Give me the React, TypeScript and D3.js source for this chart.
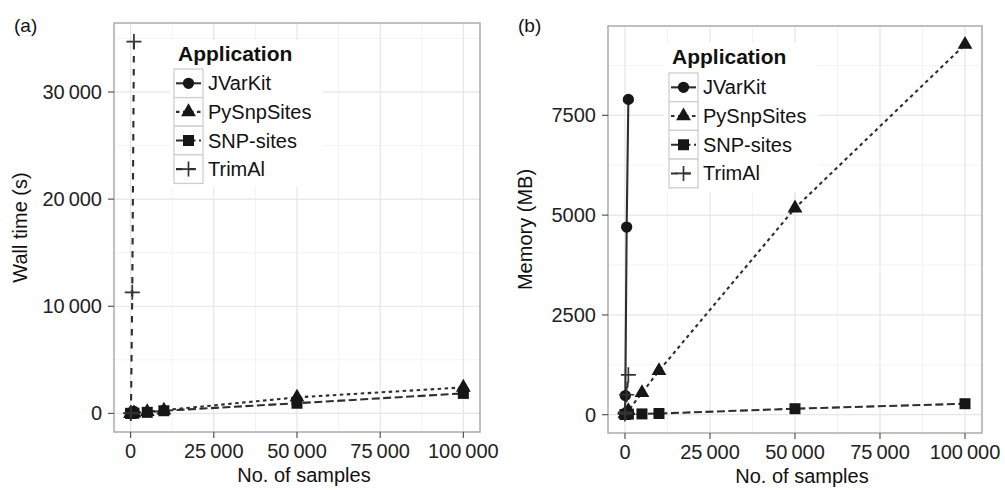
import React, { useEffect, useRef } from "react";
import * as d3 from "d3";

// application names (legend order)
const applications = ["JVarKit", "PySnpSites", "SNP-sites", "TrimAl"];

// sample counts per application
const jvarkitSamples = [10, 100, 500, 1000];
const trimalSamples = [10, 100, 500, 1000];
const pysnpSamples = [10, 100, 1000, 5000, 10000, 50000, 100000];
const snpSamples = [10, 100, 1000, 5000, 10000, 50000, 100000];

// wall time (s)
const jvarkitWall = [2, 15, 90, 180];
const pysnpWall = [1, 4, 40, 150, 300, 1500, 2430];
const snpWall = [1, 3, 20, 100, 250, 950, 1870];
const trimalWall = [1, 30, 11300, 34700];

// memory (MB)
const jvarkitMem = [30, 480, 4700, 7900];
const pysnpMem = [20, 30, 100, 550, 1100, 5175, 9275];
const snpMem = [5, 8, 15, 20, 30, 150, 275];
const trimalMem = [20, 60, 500, 1000];

// axis ticks
const xTicks = [0, 25000, 50000, 75000, 100000];
const xTickLabels = ["0", "25\u2009000", "50\u2009000", "75\u2009000", "100\u2009000"];
const xMinor = [12500, 37500, 62500, 87500];
const yTicksA = [0, 10000, 20000, 30000];
const yTickLabelsA = ["0", "10\u2009000", "20\u2009000", "30\u2009000"];
const yMinorA = [5000, 15000, 25000, 35000];
const yTicksB = [0, 2500, 5000, 7500];
const yTickLabelsB = ["0", "2500", "5000", "7500"];
const yMinorB = [1250, 3750, 6250, 8750];

const dashes: Record<string, string | null> = {
  JVarKit: null,
  PySnpSites: "3.5,3.5",
  "SNP-sites": "8,3.5",
  TrimAl: "6.5,6.5",
};

const FONT = "'Liberation Sans', Arial, Helvetica, sans-serif";

const drawMarker = (g, name, x, y) => {
  if (name === "TrimAl") {
    g.append("path")
      .attr("d", `M${x - 7.5},${y}H${x + 7.5}M${x},${y - 7.5}V${y + 7.5}`)
      .attr("stroke", "#333")
      .attr("stroke-width", 1.7)
      .attr("fill", "none");
    return;
  }
  const type =
    name === "JVarKit" ? d3.symbolCircle : name === "PySnpSites" ? d3.symbolTriangle : d3.symbolSquare;
  const size = name === "JVarKit" ? 100 : name === "PySnpSites" ? 95 : 121;
  g.append("path")
    .attr("d", d3.symbol().type(type).size(size)())
    .attr("transform", `translate(${x},${y})`)
    .attr("fill", "#161616");
};

const drawPanel = (svg, cfg) => {
  const { left, right, top, bottom, series, yTicks, yLabels, yMinor, yTitle, tag, legend } = cfg;

  const allX = series.flatMap((s) => s.x);
  const allY = series.flatMap((s) => s.y);
  const [x0, x1] = d3.extent(allX);
  const [y0, y1] = d3.extent(allY);
  const ex = (x1 - x0) * 0.05;
  const ey = (y1 - y0) * 0.05;

  const x = d3.scaleLinear().domain([x0 - ex, x1 + ex]).range([left, right]);
  const y = d3.scaleLinear().domain([y0 - ey, y1 + ey]).range([bottom, top]);

  const g = svg.append("g");

  g.append("rect")
    .attr("x", left)
    .attr("y", top)
    .attr("width", right - left)
    .attr("height", bottom - top)
    .attr("fill", "white");

  // minor grid
  xMinor.forEach((v) =>
    g.append("line").attr("x1", x(v)).attr("x2", x(v)).attr("y1", top).attr("y2", bottom)
      .attr("stroke", "#f3f3f3").attr("stroke-width", 1)
  );
  yMinor.filter((v) => y(v) > top).forEach((v) =>
    g.append("line").attr("x1", left).attr("x2", right).attr("y1", y(v)).attr("y2", y(v))
      .attr("stroke", "#f3f3f3").attr("stroke-width", 1)
  );
  // major grid
  xTicks.forEach((v) =>
    g.append("line").attr("x1", x(v)).attr("x2", x(v)).attr("y1", top).attr("y2", bottom)
      .attr("stroke", "#e6e6e6").attr("stroke-width", 1.2)
  );
  yTicks.forEach((v) =>
    g.append("line").attr("x1", left).attr("x2", right).attr("y1", y(v)).attr("y2", y(v))
      .attr("stroke", "#e6e6e6").attr("stroke-width", 1.2)
  );

  // legend background (drawn over grid, under data)
  g.append("rect")
    .attr("x", legend.bx)
    .attr("y", legend.by)
    .attr("width", legend.bw)
    .attr("height", legend.bh)
    .attr("fill", "white");

  // lines
  const line = d3.line().x((d) => x(d[0])).y((d) => y(d[1]));
  series.forEach((s) => {
    const pts = s.x.map((v, i) => [v, s.y[i]]);
    const p = g.append("path")
      .attr("d", line(pts))
      .attr("fill", "none")
      .attr("stroke", "#2e2e2e")
      .attr("stroke-width", 2.1);
    if (dashes[s.name]) p.attr("stroke-dasharray", dashes[s.name]);
  });
  // markers
  series.forEach((s) => {
    s.x.forEach((v, i) => drawMarker(g, s.name, x(v), y(s.y[i])));
  });

  // panel border
  g.append("rect")
    .attr("x", left)
    .attr("y", top)
    .attr("width", right - left)
    .attr("height", bottom - top)
    .attr("fill", "none")
    .attr("stroke", "#a6a6a6")
    .attr("stroke-width", 1.4);

  // axes ticks + labels
  xTicks.forEach((v, i) => {
    g.append("line").attr("x1", x(v)).attr("x2", x(v)).attr("y1", bottom).attr("y2", bottom + 6)
      .attr("stroke", "#555").attr("stroke-width", 1.2);
    g.append("text").attr("x", x(v)).attr("y", bottom + 26)
      .attr("text-anchor", "middle").attr("font-size", 20).attr("font-family", FONT)
      .attr("fill", "#222").text(xTickLabels[i]);
  });
  yTicks.forEach((v, i) => {
    g.append("line").attr("x1", left - 6).attr("x2", left).attr("y1", y(v)).attr("y2", y(v))
      .attr("stroke", "#555").attr("stroke-width", 1.2);
    g.append("text").attr("x", left - 12).attr("y", y(v) + 7)
      .attr("text-anchor", "end").attr("font-size", 20).attr("font-family", FONT)
      .attr("fill", "#222").text(yLabels[i]);
  });

  // axis titles
  g.append("text")
    .attr("x", (left + right) / 2 + 7)
    .attr("y", bottom + 50)
    .attr("text-anchor", "middle").attr("font-size", 20).attr("font-family", FONT)
    .attr("fill", "#111").text("No. of samples");
  g.append("text")
    .attr("transform", `translate(${cfg.yTitleX},${(top + bottom) / 2}) rotate(-90)`)
    .attr("text-anchor", "middle").attr("font-size", 20).attr("font-family", FONT)
    .attr("fill", "#111").text(yTitle);

  // panel tag
  g.append("text")
    .attr("x", cfg.tagX).attr("y", 32)
    .attr("font-size", 19).attr("font-family", FONT).attr("fill", "#111").text(tag);

  // legend
  g.append("text")
    .attr("x", legend.tx).attr("y", legend.ty)
    .attr("font-size", 21).attr("font-weight", "bold").attr("font-family", FONT)
    .attr("fill", "#111").text("Application");
  applications.forEach((name, i) => {
    const ky = legend.ky + i * legend.kh;
    g.append("rect")
      .attr("x", legend.kx).attr("y", ky).attr("width", 29).attr("height", legend.kh)
      .attr("fill", "white").attr("stroke", "#cfcfcf").attr("stroke-width", 1.3);
    const cy = ky + legend.kh / 2;
    const l = g.append("line")
      .attr("x1", legend.kx + 2).attr("x2", legend.kx + 27).attr("y1", cy).attr("y2", cy)
      .attr("stroke", "#2e2e2e").attr("stroke-width", 2.1);
    if (dashes[name]) l.attr("stroke-dasharray", dashes[name]);
    drawMarker(g, name, legend.kx + 14.5, cy);
    g.append("text")
      .attr("x", legend.kx + 34).attr("y", cy + 7)
      .attr("font-size", 20).attr("font-family", FONT).attr("fill", "#111").text(name);
  });
};

const App = () => {
  const ref = useRef(null);

  useEffect(() => {
    const svg = d3.select(ref.current);
    svg.selectAll("*").remove();

    drawPanel(svg, {
      left: 114, right: 480, top: 23, bottom: 432,
      series: [
        { name: "JVarKit", x: jvarkitSamples, y: jvarkitWall },
        { name: "PySnpSites", x: pysnpSamples, y: pysnpWall },
        { name: "SNP-sites", x: snpSamples, y: snpWall },
        { name: "TrimAl", x: trimalSamples, y: trimalWall },
      ],
      yTicks: yTicksA, yLabels: yTickLabelsA, yMinor: yMinorA,
      yTitle: "Wall time (s)", yTitleX: 27, tag: "(a)", tagX: 14,
      legend: { bx: 170, by: 40, bw: 153, bh: 147, tx: 178, ty: 61, kx: 174, ky: 69, kh: 28.6 },
    });

    drawPanel(svg, {
      left: 608, right: 982, top: 26, bottom: 433,
      series: [
        { name: "JVarKit", x: jvarkitSamples, y: jvarkitMem },
        { name: "PySnpSites", x: pysnpSamples, y: pysnpMem },
        { name: "SNP-sites", x: snpSamples, y: snpMem },
        { name: "TrimAl", x: trimalSamples, y: trimalMem },
      ],
      yTicks: yTicksB, yLabels: yTickLabelsB, yMinor: yMinorB,
      yTitle: "Memory (MB)", yTitleX: 532, tag: "(b)", tagX: 518,
      legend: { bx: 664, by: 43, bw: 154, bh: 149, tx: 672, ty: 64, kx: 669, ky: 73, kh: 28.7 },
    });
  }, []);

  return (
    <svg
      ref={ref}
      width={1005}
      height={490}
      style={{ position: "absolute", left: 0, top: 0, background: "white" }}
    />
  );
};

export default App;
